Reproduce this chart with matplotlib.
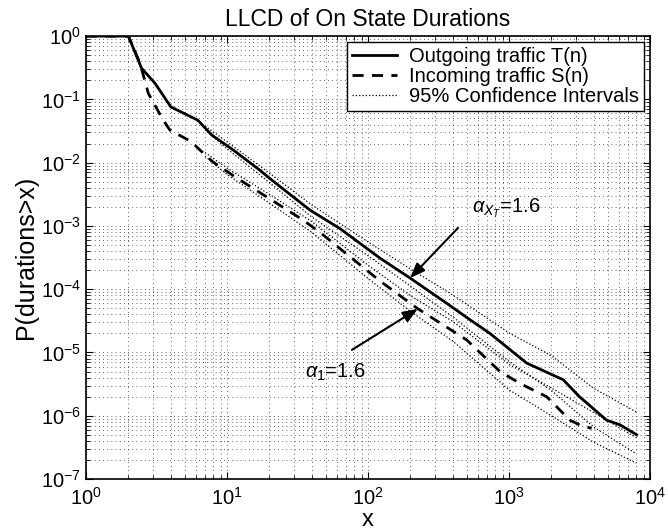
import matplotlib
matplotlib.use("Agg")
import matplotlib.pyplot as plt

plt.rcParams['font.family'] = ['Liberation Sans', 'DejaVu Sans']
plt.rcParams['mathtext.fontset'] = 'custom'
plt.rcParams['mathtext.rm'] = 'Liberation Sans'
plt.rcParams['mathtext.it'] = 'Liberation Sans:italic'

# LLCD of outgoing traffic T(n)
x_out = [1, 2, 2.48, 3.08, 4.0, 6.2, 7.8, 11.1, 17.1, 20.8, 38.8, 63.2, 121.6,
         199, 361, 528, 733, 1334, 2427, 3162, 4932, 6124, 8054]
p_out = [1, 1, 0.31, 0.181, 0.076, 0.047, 0.0273, 0.0158, 0.0076, 0.0053, 0.00178,
         9.1e-4, 3.1e-4, 1.5e-4, 6.0e-5, 3.3e-5, 2.0e-5, 6.8e-6, 3.7e-6, 2.0e-6,
         8.5e-7, 7.2e-7, 5.0e-7]

# LLCD of incoming traffic S(n)
x_in = [1, 2, 2.42, 2.77, 3.53, 3.94, 5.6, 6.44, 7.94, 11.7, 19.1, 34.8, 45.7,
        121.6, 226, 501, 863, 1197, 1849, 2710, 3162, 3855]
p_in = [1, 1, 0.37, 0.124, 0.047, 0.0327, 0.0214, 0.0158, 0.0103, 0.00575, 0.00288,
        0.00123, 7.9e-4, 1.35e-4, 4.9e-5, 1.58e-5, 5.0e-6, 3.24e-6, 2.0e-6, 8.5e-7,
        7.2e-7, 6.3e-7]

# 95% confidence bounds
x_ci = [7, 10, 20, 40, 100, 200, 400, 1000, 2000, 4000, 8000]
out_hi = [0.038, 0.0214, 0.00684, 0.00214, 5.6e-4, 2.09e-4, 8.1e-5, 2.04e-5, 8.9e-6, 2.7e-6, 1.15e-6]
out_lo = [0.0331, 0.0166, 0.00484, 0.00138, 3.39e-4, 1.12e-4, 3.63e-5, 7.24e-6, 2.51e-6, 6.6e-7, 2.5e-7]
in_hi = [0.01445, 0.00822, 0.00316, 0.00117, 2.4e-4, 7.9e-5, 3.09e-5, 6.5e-6, 2.75e-6, 1.12e-6, 4.5e-7]
in_lo = [0.0126, 0.00653, 0.00229, 7.9e-4, 1.48e-4, 4.47e-5, 1.51e-5, 2.57e-6, 1.0e-6, 3.8e-7, 1.78e-7]

fig = plt.figure(figsize=(6.68, 5.31), dpi=100)
ax = fig.add_axes([0.1287, 0.0979, 0.8443, 0.8341])

ax.loglog(x_out, p_out, 'k-', lw=2, label='Outgoing traffic T(n)')
ax.loglog(x_in, p_in, 'k--', lw=2, dashes=(4, 3), label='Incoming traffic S(n)')
ax.loglog(x_ci, out_hi, 'k:', lw=0.9, label='95% Confidence Intervals')
for ci in (out_lo, in_hi, in_lo):
    ax.loglog(x_ci, ci, 'k:', lw=0.9)

ax.set_xlim(1, 1e4)
ax.set_ylim(1e-7, 1)
ax.grid(which='both', color='#333333', linestyle=(0, (1, 4)), linewidth=0.6)
ax.tick_params(which='both', direction='in', top=True, right=True, labelsize=14.5)
ax.tick_params(axis='x', pad=6)
ax.tick_params(which='major', length=5)
ax.tick_params(which='minor', length=3)
for s in ax.spines.values():
    s.set_linewidth(1.2)

ax.set_title('LLCD of On State Durations', fontsize=16.5, pad=7)
ax.set_ylabel('P(durations>x)', fontsize=18, labelpad=2)
ax.set_xlabel('x', fontsize=17, va='baseline')
ax.xaxis.set_label_coords(0.5, -0.105)

leg = ax.legend(loc='upper right', fontsize=14.5, frameon=True, fancybox=False,
                edgecolor='k', framealpha=1, handlelength=2.2, borderpad=0.25,
                labelspacing=0.05, handletextpad=0.6, borderaxespad=0.3)
leg.get_frame().set_linewidth(1.0)

arrow = dict(arrowstyle='-|>,head_length=0.9,head_width=0.35', color='k', lw=1.5,
             shrinkA=0, shrinkB=0)
ax.annotate('', xy=(x_out[13], p_out[13]), xytext=(435, 9.3e-4), arrowprops=arrow)
ax.annotate('', xy=(x_in[14], p_in[14]), xytext=(77, 1.1e-5), arrowprops=arrow)
ax.text(547, 1.92e-3, r'$\alpha_{X_T}$=1.6', fontsize=14.5, va='center', ha='left')
ax.text(35.7, 4.8e-6, r'$\alpha_{1}$=1.6', fontsize=14.5, va='center', ha='left')

fig.savefig('out.png', dpi=100)
